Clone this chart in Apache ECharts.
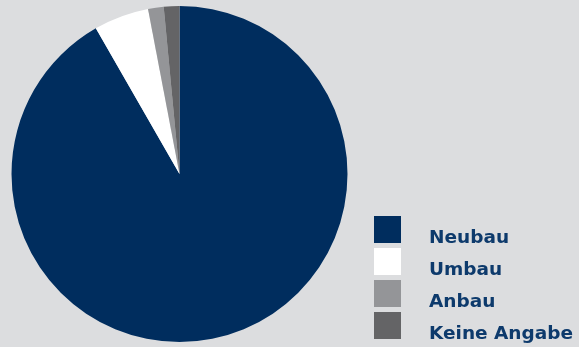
<!DOCTYPE html>
<html>
<head>
<meta charset="utf-8">
<script src="https://cdn.jsdelivr.net/npm/echarts@6/dist/echarts.min.js"></script>
<style>
  html, body { margin: 0; padding: 0; background: #dcdddf; }
  #chart { width: 579px; height: 347px; }
</style>
</head>
<body>
<div id="chart"></div>
<script>
// Bauart – Anteile (geschätzt aus dem Bild, in %)
const categories = ["Neubau", "Umbau", "Anbau", "Keine Angabe"];
const values = [91.7, 5.3, 1.5, 1.5];
const colors = ["#002d5e", "#ffffff", "#949598", "#646466"];

const chart = echarts.init(document.getElementById("chart"));
chart.setOption({
  backgroundColor: "#dcdddf",
  animation: false,
  color: colors,
  legend: {
    orient: "vertical",
    left: 374,
    top: 216,
    height: 200,
    padding: 0,
    itemWidth: 27,
    itemHeight: 27,
    itemGap: 0.5,
    icon: "rect",
    data: categories,
    // spacer pushes the label right and a bit below the square's middle
    formatter: "{s|}{t|{name}}",
    textStyle: {
      rich: {
        s: { width: 23, height: 36 },
        t: {
          verticalAlign: "bottom",
          fontFamily: "DejaVu Sans",
          fontWeight: "bold",
          fontSize: 18.5,
          color: "#0d3a6c"
        }
      }
    }
  },
  series: [
    {
      type: "pie",
      center: [179.5, 174],
      radius: 168,
      startAngle: 90,
      clockwise: true,
      label: { show: false },
      labelLine: { show: false },
      emphasis: { disabled: true },
      itemStyle: { borderWidth: 0 },
      data: categories.map((name, i) => ({ name: name, value: values[i] }))
    }
  ]
});
</script>
</body>
</html>
